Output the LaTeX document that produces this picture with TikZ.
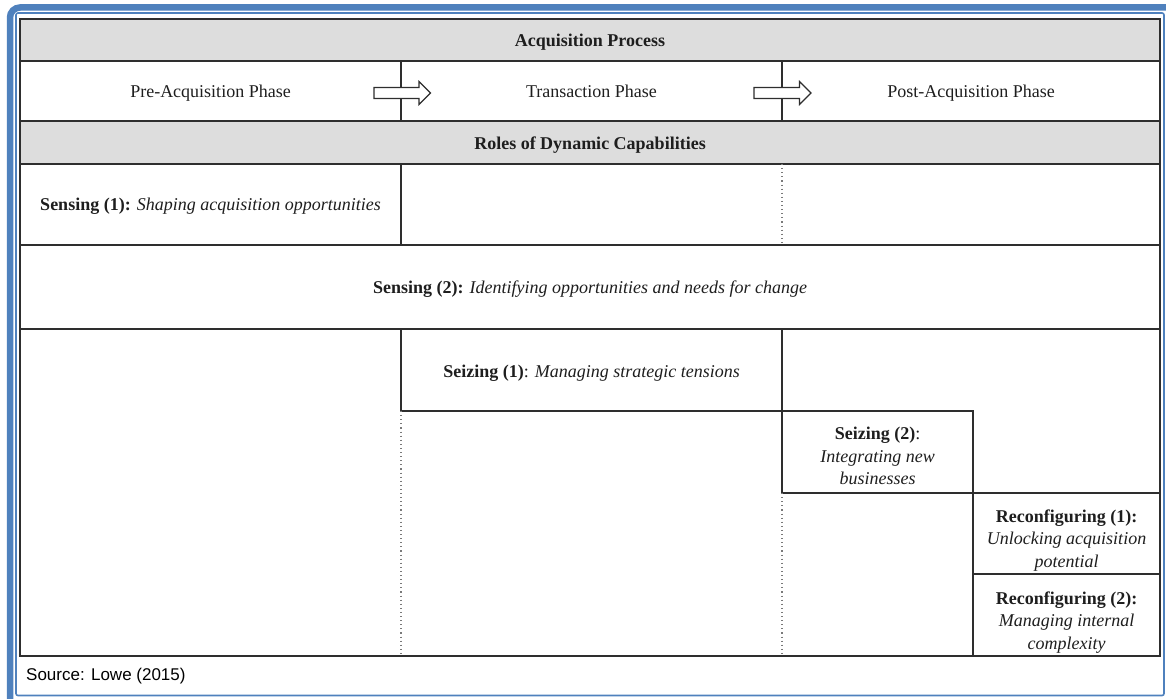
\documentclass[tikz,border=0pt]{standalone}
\usepackage{fontspec}
\usetikzlibrary{calc}
\setmainfont{Liberation Serif}
\newfontfamily\srcfont{Liberation Sans}
\definecolor{frameblue}{HTML}{4F81BD}
\definecolor{headgray}{HTML}{DDDDDD}
\definecolor{linegray}{HTML}{2E2E2E}
\definecolor{dotgray}{HTML}{7A7A7A}
\definecolor{inkcol}{HTML}{1E1E1E}
\begin{document}
\begin{tikzpicture}[x=1pt,y=-1pt,
  gridline/.style={draw=linegray, line width=1.6pt},
  dotline/.style={draw=dotgray, line width=1.1pt, dash pattern=on 1.1pt off 3pt},
  cell/.style={gridline, rectangle, inner sep=0pt, outer sep=0pt, anchor=north west},
  headcell/.style={cell, fill=headgray},
  label/.style={inner sep=0pt, text=inkcol, font=\fontsize{18}{22.5}\selectfont,
    text height=13pt, text depth=4pt},
  boldlabel/.style={label, font=\bfseries\fontsize{18}{22.5}\selectfont},
  stack/.style={inner sep=0pt, text=inkcol, align=center, font=\fontsize{18}{22.5}\selectfont},
  blockarrow/.style={draw=linegray, line width=1.2pt, fill=white}
]
\useasboundingbox (0,0) rectangle (1166,698);

% page frame
\draw[frameblue, line width=6.5pt, rounded corners=10pt] (10,7.5) rectangle (1180,712);
\draw[frameblue, line width=1.6pt, rounded corners=2pt] (16,13) rectangle (1164,695.5);

% header rows
\node[headcell, minimum width=1140pt, minimum height=42pt] (head1) at (20,19) {};
\node[cell, draw=none, minimum width=1140pt, minimum height=60pt] (phases) at (20,61) {};
\node[headcell, minimum width=1140pt, minimum height=43pt] (head2) at (20,121) {};

% capability cells
\node[cell, minimum width=381pt, minimum height=81pt] (sens1) at (20,164) {};
\node[cell, minimum width=1140pt, minimum height=84pt] (sens2) at (20,245) {};
\node[cell, minimum width=381pt, minimum height=82pt] (seiz1) at (401,329) {};
\node[cell, minimum width=191pt, minimum height=82pt] (seiz2) at (782,411) {};
\node[cell, minimum width=187pt, minimum height=81pt] (reconf1) at (973,493) {};
\node[cell, minimum width=187pt, minimum height=82pt] (reconf2) at (973,574) {};

% table outline
\draw[gridline] (head1.north west) rectangle (reconf2.south east);

% column dividers in the phase row
\draw[gridline] (sens1.east |- phases.north) -- (sens1.east |- phases.south);
\draw[gridline] (seiz1.east |- phases.north) -- (seiz1.east |- phases.south);

% dotted phase boundaries
\draw[dotline] (seiz1.east |- sens1.north) -- (seiz1.east |- sens1.south);
\draw[dotline] (seiz1.south west) -- (seiz1.west |- reconf2.south);
\draw[dotline] (seiz2.south west) -- (seiz2.west |- reconf2.south);

% block arrows between phases
\draw[blockarrow] (374,87.5) -- (419,87.5) -- (419,81.5) -- (430.5,93) -- (419,104.5)
  -- (419,98.5) -- (374,98.5) -- cycle;
\draw[blockarrow] (754,87.5) -- (799.5,87.5) -- (799.5,81.5) -- (811,93) -- (799.5,104.5)
  -- (799.5,98.5) -- (754,98.5) -- cycle;

% header texts
\node[boldlabel] (head1txt) at ($(head1.center)+(0,2)$) {Acquisition Process};
\node[boldlabel] (head2txt) at ($(head2.center)+(0,2.5)$) {Roles of Dynamic Capabilities};

% phase labels
\node[label] (pre)   at (210.5,93.5) {Pre-Acquisition Phase};
\node[label] (trans) at (591.5,93.5) {Transaction Phase};
\node[label] (post)  at (971,93.5)   {Post-Acquisition Phase};

% capability texts
\node[label] (sens1txt) at ($(sens1.center)+(0,1.5)$)
  {\textbf{Sensing (1):} \textit{Shaping acquisition opportunities}};
\node[label] (sens2txt) at ($(sens2.center)+(0,1.5)$)
  {\textbf{Sensing (2):} \textit{Identifying opportunities and needs for change}};
\node[label] (seiz1txt) at ($(seiz1.center)+(0,3)$)
  {\textbf{Seizing (1)}: \textit{Managing strategic tensions}};
\node[stack] (seiz2txt) at ($(seiz2.center)+(0,4)$)
  {\textbf{Seizing (2)}:\\ \textit{Integrating new}\\ \textit{businesses}};
\node[stack] (reconf1txt) at ($(reconf1.center)+(0,7)$)
  {\textbf{Reconfiguring (1):}\\ \textit{Unlocking acquisition}\\ \textit{potential}};
\node[stack] (reconf2txt) at ($(reconf2.center)+(0,7.5)$)
  {\textbf{Reconfiguring (2):}\\ \textit{Managing internal}\\ \textit{complexity}};

% source note
\node[anchor=west, inner sep=0pt, font=\srcfont\fontsize{17}{20}\selectfont] (src) at (26,676)
  {Source: Lowe (2015)};
\end{tikzpicture}
\end{document}
